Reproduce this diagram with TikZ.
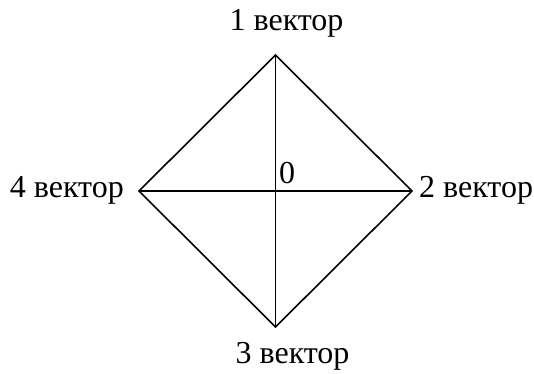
\documentclass[tikz,border=0pt]{standalone}
\usepackage{fontspec}
\setmainfont{Liberation Serif}
\begin{document}
\begin{tikzpicture}[x=1pt,y=-1pt,
  lbl/.style={font=\fontsize{32}{37}\selectfont, inner sep=0pt},
  edge/.style={line width=1.6pt, line join=miter}]
\useasboundingbox (0,0) rectangle (534,373);
\coordinate (T) at (275.5,55);
\coordinate (R) at (412,191);
\coordinate (B) at (275.5,327);
\coordinate (L) at (139,191);
\coordinate (O) at (275.5,191);
\draw[edge] (T) -- (R) -- (B) -- (L) -- cycle;
\draw[edge] (T) -- (B);
\draw[edge] (L) -- (R);
\node[lbl, anchor=base] (l1) at (286.5,30) {1 вектор};
\node[lbl, anchor=base west] (l2) at (419,197) {2 вектор};
\node[lbl, anchor=base] (l3) at (292.5,363) {3 вектор};
\node[lbl, anchor=base east] (l4) at (124,197) {4 вектор};
\node[lbl, anchor=base west] (z) at (279,183) {0};
\end{tikzpicture}
\end{document}
